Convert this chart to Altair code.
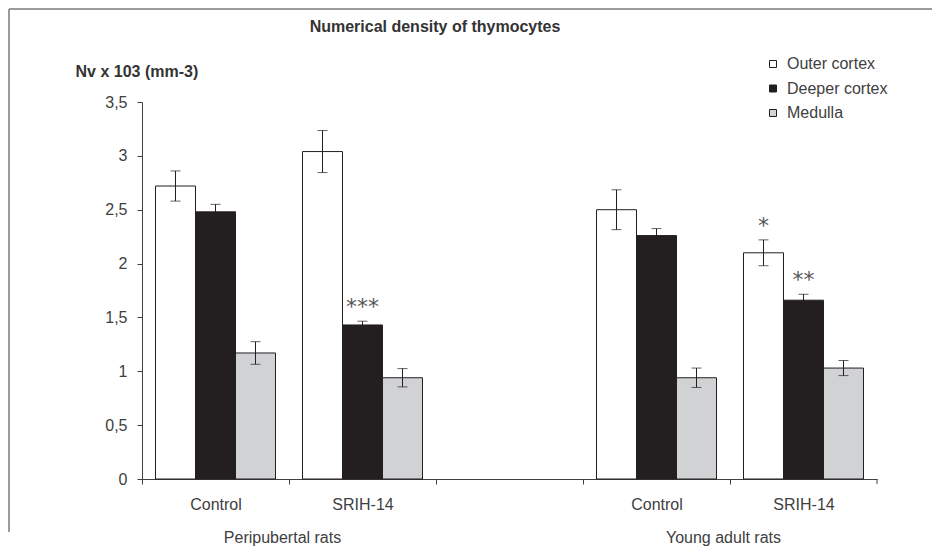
import altair as alt
import pandas as pd

# ---- data ----
slots = ["P|Control", "P|SRIH-14", "gap", "Y|Control", "Y|SRIH-14"]
categories = ["P|Control", "P|SRIH-14", "Y|Control", "Y|SRIH-14"]
series = ["Outer cortex", "Deeper cortex", "Medulla"]
outer = [2.72, 3.04, 2.50, 2.10]
outer_err = [0.14, 0.195, 0.185, 0.12]
deeper = [2.48, 1.43, 2.26, 1.66]
deeper_err = [0.07, 0.035, 0.065, 0.055]
medulla = [1.17, 0.94, 0.94, 1.03]
medulla_err = [0.105, 0.085, 0.09, 0.07]
outer_sig = ["", "", "", "*"]
deeper_sig = ["", "***", "", "**"]
medulla_sig = ["", "", "", ""]
group_labels = ["Peripubertal rats", "Young adult rats"]
group_anchor = ["P|Control", "Y|Control"]
y_ticks = [0, 0.5, 1, 1.5, 2, 2.5, 3, 3.5]
chart_title = "Numerical density of thymocytes"

rows = []
for s, vals, errs, sigs in [
    ("Outer cortex", outer, outer_err, outer_sig),
    ("Deeper cortex", deeper, deeper_err, deeper_sig),
    ("Medulla", medulla, medulla_err, medulla_sig),
]:
    for c, v, e, g in zip(categories, vals, errs, sigs):
        rows.append({"cat": c, "series": s, "value": v, "err": e, "sig": g})
df = pd.DataFrame(rows)
df["lo"] = df["value"] - df["err"]
df["hi"] = df["value"] + df["err"]
sig_df = df[df["sig"] != ""].reset_index(drop=True)
grp_df = pd.DataFrame({"cat": group_anchor, "label": group_labels})

FONT = "Liberation Sans"
TXT = "#404040"
INK = "#231f20"
PLOT_W = 735
SLOT = PLOT_W / len(slots)

x_axis = alt.Axis(
    title=None,
    labelExpr="indexof(datum.value, '|') >= 0 ? split(datum.value, '|')[1] : ''",
    tickOffset=-SLOT / 2,
    labelOffset=SLOT / 2,
    tickSize=5,
    labelPadding=12,
    labelFontSize=16,
    labelFont=FONT,
    labelColor=TXT,
    domainColor="#404040",
    tickColor="#404040",
    labelAngle=0,
    grid=False,
)
x_scale = alt.Scale(domain=slots, paddingInner=0, paddingOuter=0)
xoff_scale = alt.Scale(domain=series, paddingInner=0, paddingOuter=0.3375)

y_axis = alt.Axis(
    title="Nv x 103 (mm-3)",
    titleAngle=0,
    titleAlign="left",
    titleBaseline="middle",
    titleX=-67,
    titleY=-31,
    titleFont=FONT,
    titleFontSize=16,
    titleFontWeight="bold",
    titleColor="#333333",
    values=y_ticks,
    labelExpr="replace(toString(datum.value), '.', ',')",
    labelFontSize=16,
    labelFont=FONT,
    labelColor=TXT,
    labelPadding=10,
    tickSize=5,
    domainColor="#404040",
    tickColor="#404040",
    grid=False,
)
y_scale = alt.Scale(domain=[0, 3.5], nice=False)

X = alt.X("cat:N", scale=x_scale, axis=x_axis)
XO = alt.XOffset("series:N", scale=xoff_scale)

base = alt.Chart(df)

bars = base.mark_bar(stroke=INK, strokeWidth=1).encode(
    x=X,
    xOffset=XO,
    y=alt.Y("value:Q", scale=y_scale, axis=y_axis),
    fill=alt.Fill(
        "series:N",
        scale=alt.Scale(domain=series, range=["#ffffff", INK, "#d1d2d4"]),
        legend=alt.Legend(
            title=None,
            orient="none",
            legendX=623,
            legendY=-46,
            symbolType="square",
            symbolSize=49,
            symbolStrokeColor=INK,
            symbolStrokeWidth=1,
            labelFont=FONT,
            labelFontSize=16,
            labelColor=TXT,
            labelOffset=6,
            rowPadding=8.5,
            padding=0,
        ),
    ),
)

err_rule = base.mark_rule(color=INK, strokeWidth=1).encode(
    x=X, xOffset=XO,
    y=alt.Y("lo:Q", scale=y_scale),
    y2="hi:Q",
)
cap_hi = base.mark_tick(color=INK, thickness=1, size=10).encode(
    x=X, xOffset=XO, y=alt.Y("hi:Q", scale=y_scale)
)
cap_lo = base.mark_tick(color=INK, thickness=1, size=10).encode(
    x=X, xOffset=XO, y=alt.Y("lo:Q", scale=y_scale)
)

stars = alt.Chart(sig_df).mark_text(
    font="DejaVu Sans", fontSize=22, color="#555555", baseline="alphabetic", dy=-7
).encode(
    x=X, xOffset=XO,
    y=alt.Y("hi:Q", scale=y_scale),
    text="sig:N",
)

groups = alt.Chart(grp_df).mark_text(
    font=FONT, fontSize=16, color=TXT, baseline="middle", align="center", dx=67
).encode(
    x=X,
    y=alt.value(436),
    text="label:N",
)

one = pd.DataFrame({"k": [0]})
# chart title, drawn inside the figure frame
title_text = alt.Chart(one).mark_text(
    text=chart_title, font=FONT, fontSize=16, fontWeight="bold", color="#333333",
    align="center", baseline="middle",
).encode(x=alt.value(293), y=alt.value(-75))
# closing tick at the right end of the category axis
end_tick = alt.Chart(one).mark_rule(color="#404040", strokeWidth=1).encode(
    x=alt.value(PLOT_W), y=alt.value(377), y2=alt.value(382)
)
# outer frame of the figure (only its top and left edges are visible in the reference)
frame_left = alt.Chart(one).mark_rule(color="#7a7a7a", strokeWidth=1.5).encode(
    x=alt.value(-133), y=alt.value(-93), y2=alt.value(430)
)
frame_top = alt.Chart(one).mark_rule(color="#7a7a7a", strokeWidth=1.5).encode(
    x=alt.value(-133), x2=alt.value(790), y=alt.value(-93)
)

chart = alt.layer(
    frame_left, frame_top, title_text, end_tick, bars, err_rule, cap_hi, cap_lo, stars, groups
).properties(
    width=PLOT_W,
    height=377,
    padding={"left": 0, "top": 0, "right": 0, "bottom": 0},
).configure(background="white").configure_view(stroke=None)

chart.save("out.html", embed_options={"renderer": "svg", "actions": False})
